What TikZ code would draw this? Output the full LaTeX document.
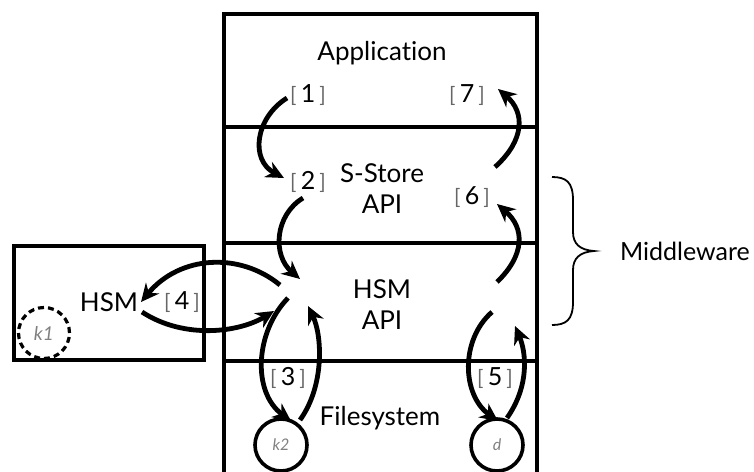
\documentclass[tikz,border=0pt]{standalone}
\usepackage{fontspec}
\setmainfont{Lato}[Ligatures=NoCommon]
\usetikzlibrary{arrows.meta}
\begin{document}
\begin{tikzpicture}[x=1pt,y=-1pt,
  boxline/.style={line width=3.6pt},
  flow/.style={line width=4.8pt,-{Stealth[length=18pt,width=17pt]}},
  lbl/.style={font=\fontsize{26}{28}\selectfont,inner sep=0pt},
  num/.style={font=\fontsize{25}{28}\selectfont,inner sep=0pt},
  store/.style={circle,draw,line width=3.6pt,minimum size=52pt,inner sep=0pt,font=\fontsize{16}{18}\selectfont\itshape,text=gray},
  keyc/.style={circle,draw,dash pattern=on 6pt off 4pt,line width=3.2pt,minimum size=51pt,inner sep=0pt,font=\fontsize{19}{20}\selectfont\itshape,text=gray}
]
\useasboundingbox (0,0) rectangle (754,471);
\clip (0,0) rectangle (754,471);
\newcommand{\br}[1]{{\color{gray!80!black}\fontsize{21}{22}\selectfont[}\,#1\,{\color{gray!80!black}\fontsize{21}{22}\selectfont]}}
% boxes
\draw[boxline] (224,480) -- (224,14) -- (537,14) -- (537,480);
\draw[boxline] (224,127) -- (537,127);
\draw[boxline] (224,243) -- (537,243);
\draw[boxline] (224,361) -- (537,361);
\draw[boxline] (14,246) rectangle (204,360);
% texts
\node[lbl] (app) at (382,53) {Application};
\node[lbl,align=center] (sstore) at (382,189) {S-Store\\[3pt]API};
\node[lbl,align=center] (hsmapi) at (382,305) {HSM\\[3pt]API};
\node[lbl] (fs) at (380,418) {Filesystem};
\node[lbl] (hsm) at (109,302) {HSM};
\node[lbl,font=\fontsize{25}{28}\selectfont] (mw) at (685,251) {Middleware};
% stores
\node[keyc] (k1) at (44,333) {k1};
\node[store] (k2) at (281,445) {k2};
\node[store] (d) at (497,445) {d};
% labels
\node[num] (n1) at (308,95) {\br{1}};
\node[num] (n7) at (467,95) {\br{7}};
\node[num] (n2) at (308,182) {\br{2}};
\node[num] (n6) at (472,197) {\br{6}};
\node[num] (n3) at (288,378) {\br{3}};
\node[num] (n5) at (495,378) {\br{5}};
\node[num] (n4) at (182,302) {\br{4}};
% coordinates
\coordinate (a1s) at (287,98);  \coordinate (a1e) at (284,178);
\coordinate (a7s) at (495,167); \coordinate (a7e) at (498,89);
\coordinate (a2s) at (303,198); \coordinate (a2e) at (300,279);
\coordinate (a6s) at (497,282); \coordinate (a6e) at (497,204);
\coordinate (a4s) at (280,285); \coordinate (a4e) at (141,302);
\coordinate (b4s) at (142,312); \coordinate (b4e) at (274,311);
\coordinate (a3s) at (288,298); \coordinate (a3e) at (291,421);
\coordinate (b3s) at (300,420); \coordinate (b3e) at (308,306);
\coordinate (a5s) at (492,312); \coordinate (a5e) at (498,421);
\coordinate (b5s) at (507,418); \coordinate (b5e) at (515,326);
% arrows
\draw[flow] (a1s) .. controls (255,118) and (250,160) .. (a1e);
\draw[flow] (a7s) .. controls (525,140) and (525,112) .. (a7e);
\draw[flow] (a2s) .. controls (275,215) and (272,255) .. (a2e);
\draw[flow] (a6s) .. controls (525,255) and (525,228) .. (a6e);
\draw[flow] (a4s) .. controls (240,252) and (180,255) .. (a4e);
\draw[flow] (b4s) .. controls (185,340) and (240,332) .. (b4e);
\draw[flow] (a3s) .. controls (255,332) and (252,392) .. (a3e);
\draw[flow] (b3s) .. controls (325,385) and (322,335) .. (b3e);
\draw[flow] (a5s) .. controls (460,340) and (462,395) .. (a5e);
\draw[flow] (b5s) .. controls (530,385) and (526,352) .. (b5e);
% brace
\draw[line width=1.8pt] (552,177) .. controls (566,177) and (573,182) .. (573,200)
  -- (573,232) .. controls (573,244) and (580,250) .. (594,251)
  .. controls (580,252) and (573,258) .. (573,270)
  -- (573,302) .. controls (573,320) and (566,325) .. (552,325);
\end{tikzpicture}
\end{document}
